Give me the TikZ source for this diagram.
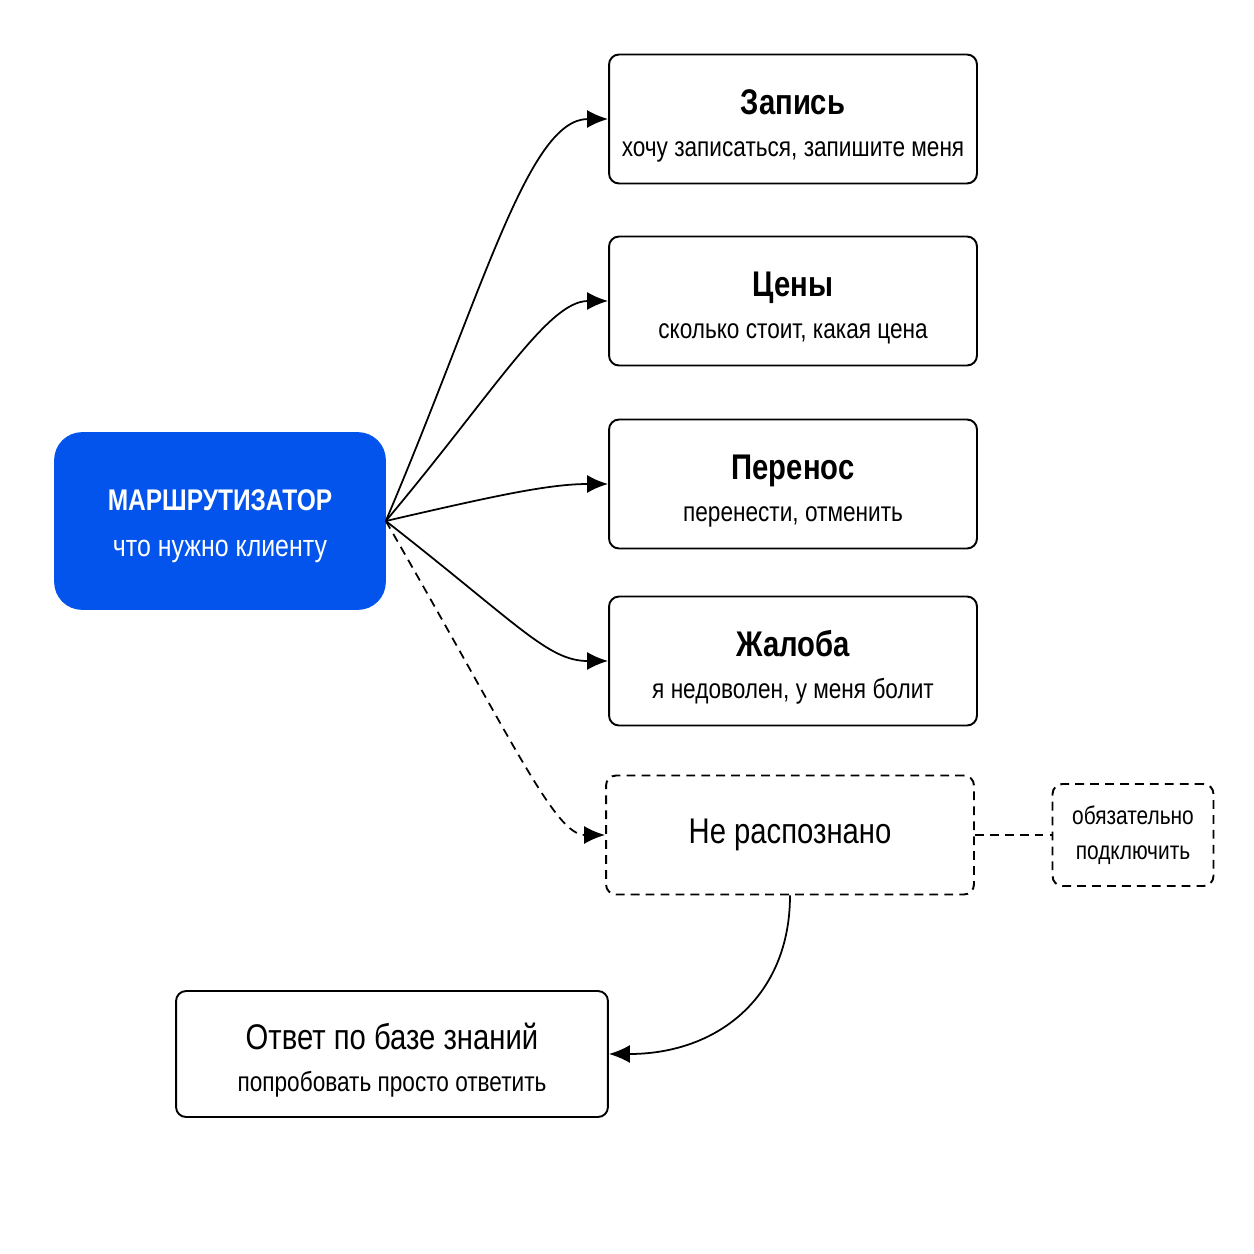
\documentclass[tikz,border=0pt]{standalone}
\usepackage{fontspec}
\setmainfont{Liberation Sans}[FakeStretch=0.82]
\usetikzlibrary{arrows.meta,positioning}
\definecolor{router}{RGB}{3,84,236}
\newcommand{\headfont}{\fontsize{20.3}{24}\selectfont}
\newcommand{\subfont}{\fontsize{15.7}{24}\selectfont}
\newcommand{\notefont}{\fontsize{14.5}{20}\selectfont}

\begin{document}
\begin{tikzpicture}[x=0.02cm, y=0.02cm,
  intent/.style={draw, line width=1.1pt, rounded corners=0.2cm, minimum width=7.36cm,
                 minimum height=2.58cm, align=center, fill=white, font=\subfont, text height=46pt},
  unknown/.style={intent, dash pattern=on 5pt off 3.5pt, minimum height=2.38cm, text height=},
  memo/.style={draw, line width=1.1pt, rounded corners=0.2cm, dash pattern=on 5pt off 3.5pt,
               minimum width=3.22cm, minimum height=2.04cm, align=center, font=\notefont},
  link/.style={line width=1pt, -{Latex[length=0.42cm, width=0.36cm]}},
]
\useasboundingbox (0,0) rectangle (1254,-1254);

\node[draw=router, fill=router, text=white, rounded corners=0.55cm, minimum width=6.62cm,
      minimum height=3.54cm, align=center, text height=44.5pt,
      font=\fontsize{17.3}{26.6}\selectfont] (router) at (220,-521)
  {{\fontsize{17}{20}\selectfont\bfseries МАРШРУТИЗАТОР}\\что нужно клиенту};

\node[intent] (booking) at (793,-119) {{\headfont\bfseries Запись}\\
  хочу записаться, запишите меня};
\node[intent] (prices) at (793,-301) {{\headfont\bfseries Цены}\\
  сколько стоит, какая цена};
\node[intent] (resched) at (793,-484) {{\headfont\bfseries Перенос}\\
  перенести, отменить};
\node[intent] (complaint) at (793,-661) {{\headfont\bfseries Жалоба}\\
  я недоволен, у меня болит};
\node[unknown] (unknown) at (790,-835) {{\headfont Не распознано}};
\node[memo] (memo) at (1133,-835) {обязательно\\подключить};
\node[intent, minimum width=8.64cm, minimum height=2.52cm] (kb) at (392,-1054)
  {{\headfont Ответ по базе знаний}\\попробовать просто ответить};

\draw[link] (router.east) .. controls +(67:250) and +(-80,0) .. (booking.west);
\draw[link] (router.east) .. controls +(50:170) and +(-60,0) .. (prices.west);
\draw[link] (router.east) .. controls +(13:110) and +(-60,0) .. (resched.west);
\draw[link] (router.east) .. controls +(-38:170) and +(-60,0) .. (complaint.west);
\draw[link, dash pattern=on 5pt off 3.5pt] (router.east) .. controls +(-60:260) and +(-50,0) .. (unknown.west);
\draw[link] (unknown.south) .. controls +(0,-100) and +(110,0) .. (kb.east);
\draw[line width=1.1pt, dash pattern=on 5pt off 3.5pt] (unknown.east) -- (memo.west);
\end{tikzpicture}
\end{document}
